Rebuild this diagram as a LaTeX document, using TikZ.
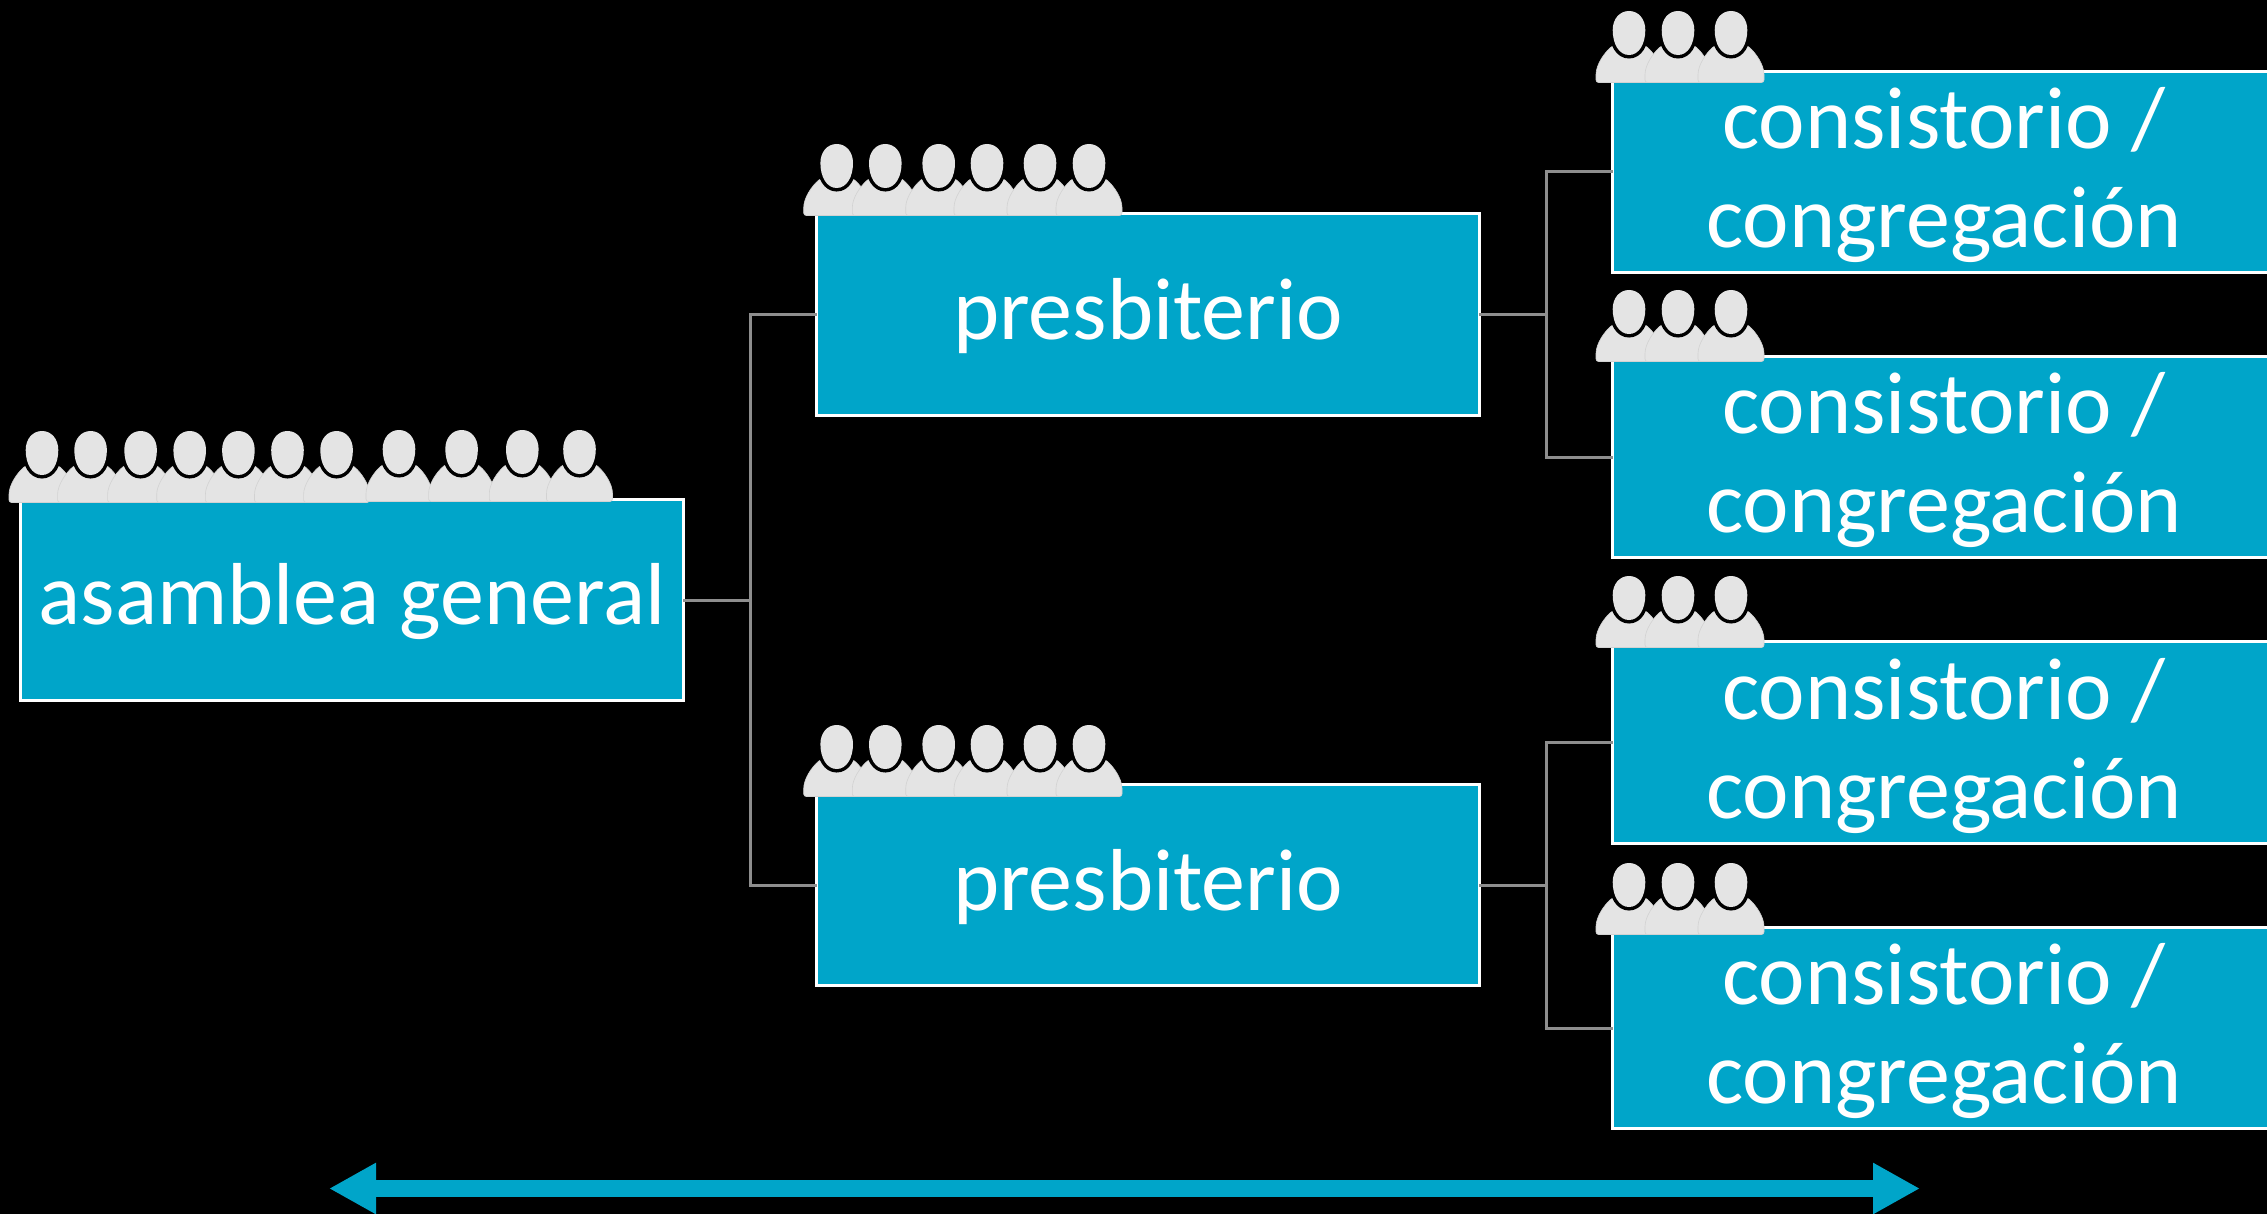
\documentclass[tikz,border=0pt]{standalone}
\usepackage{fontspec}
\setmainfont{Carlito}
\usetikzlibrary{arrows.meta}
\definecolor{boxblue}{HTML}{00A5C9}
\definecolor{headgray}{HTML}{E4E4E4}
\definecolor{seamgray}{HTML}{D2D2D2}
\definecolor{conngray}{HTML}{8E8E8E}
\newcommand{\topstrut}{\rule{0pt}{68pt}}
\newcommand{\onestrut}{\rule{0pt}{65pt}}
\tikzset{
  x=1pt,y=-1pt,
  orgbox/.style={draw=white,line width=2.6pt,fill=boxblue,text=white,minimum width=663pt,minimum height=201.5pt,inner sep=0pt,align=center,font=\fontsize{88}{99}\selectfont},
  conn/.style={draw=conngray,line width=3pt,line cap=rect},
  person/.pic={
    \path[fill=headgray,draw=seamgray,line width=.6pt,rounded corners=2.5pt]
      (-33,71.5) -- (-33,66) -- (-33,66) .. controls (-33,54) and (-25,42) .. (-16,34.5)
      -- (16,34.5) .. controls (25,42) and (33,54) .. (33,66) -- (33,71.5) -- cycle;
    \path[fill=black,draw=black,line width=7pt]
      (0,0) .. controls (9.5,0) and (16.3,8) .. (16.3,19) .. controls (16.3,33) and (10,44) .. (0,44)
      .. controls (-10,44) and (-16.3,33) .. (-16.3,19) .. controls (-16.3,8) and (-9.5,0) .. (0,0) -- cycle;
    \path[fill=headgray]
      (0,0) .. controls (9.5,0) and (16.3,8) .. (16.3,19) .. controls (16.3,33) and (10,44) .. (0,44)
      .. controls (-10,44) and (-16.3,33) .. (-16.3,19) .. controls (-16.3,8) and (-9.5,0) .. (0,0) -- cycle;
  }
}
\begin{document}
\begin{tikzpicture}
\useasboundingbox (0,0) rectangle (2267,1214);
\fill[black] (0,0) rectangle (2267,1214);
% boxes
\node[orgbox] (ag) at (352,600) {\onestrut asamblea general};
\node[orgbox] (p1) at (1148,314.5) {\onestrut presbiterio};
\node[orgbox] (p2) at (1148,885) {\onestrut presbiterio};
\node[orgbox] (c1) at (1944,172) {\topstrut consistorio /\\congregación};
\node[orgbox] (c2) at (1944,457) {\topstrut consistorio /\\congregación};
\node[orgbox] (c3) at (1944,742.5) {\topstrut consistorio /\\congregación};
\node[orgbox] (c4) at (1944,1028) {\topstrut consistorio /\\congregación};
% junctions
\coordinate (ja) at (750,600);
\coordinate (jb) at (1546,314.5);
\coordinate (jc) at (1546,885);
\draw[conn] (ag.east) -- (ja);
\draw[conn] (p1.west) -| (ja);
\draw[conn] (p2.west) -| (ja);
\draw[conn] (p1.east) -- (jb);
\draw[conn] (c1.west) -| (jb);
\draw[conn] (c2.west) -| (jb);
\draw[conn] (p2.east) -- (jc);
\draw[conn] (c3.west) -| (jc);
\draw[conn] (c4.west) -| (jc);
% people
\foreach \x in {42,90.6,140.6,189.7,238.4,287.5,336.6} \pic at (\x,431) {person};
\foreach \x in {399,461.6,522.3,579.5} \pic at (\x,430) {person};
\foreach \x in {836.7,885.3,938.7,987,1040,1089} \pic at (\x,144) {person};
\foreach \x in {836.7,885.3,938.7,987,1040,1089} \pic at (\x,725) {person};
\foreach \y in {11,290,576,863} \foreach \x in {1629,1678,1731} \pic at (\x,\y) {person};
% arrow
\coordinate (al) at (329,1188.5);
\coordinate (ar) at (1920,1188.5);
\draw[draw=boxblue,fill=boxblue,line width=17pt,{Triangle[length=47pt,width=48pt]}-{Triangle[length=47pt,width=48pt]}] (al) -- (ar);
\end{tikzpicture}
\end{document}
